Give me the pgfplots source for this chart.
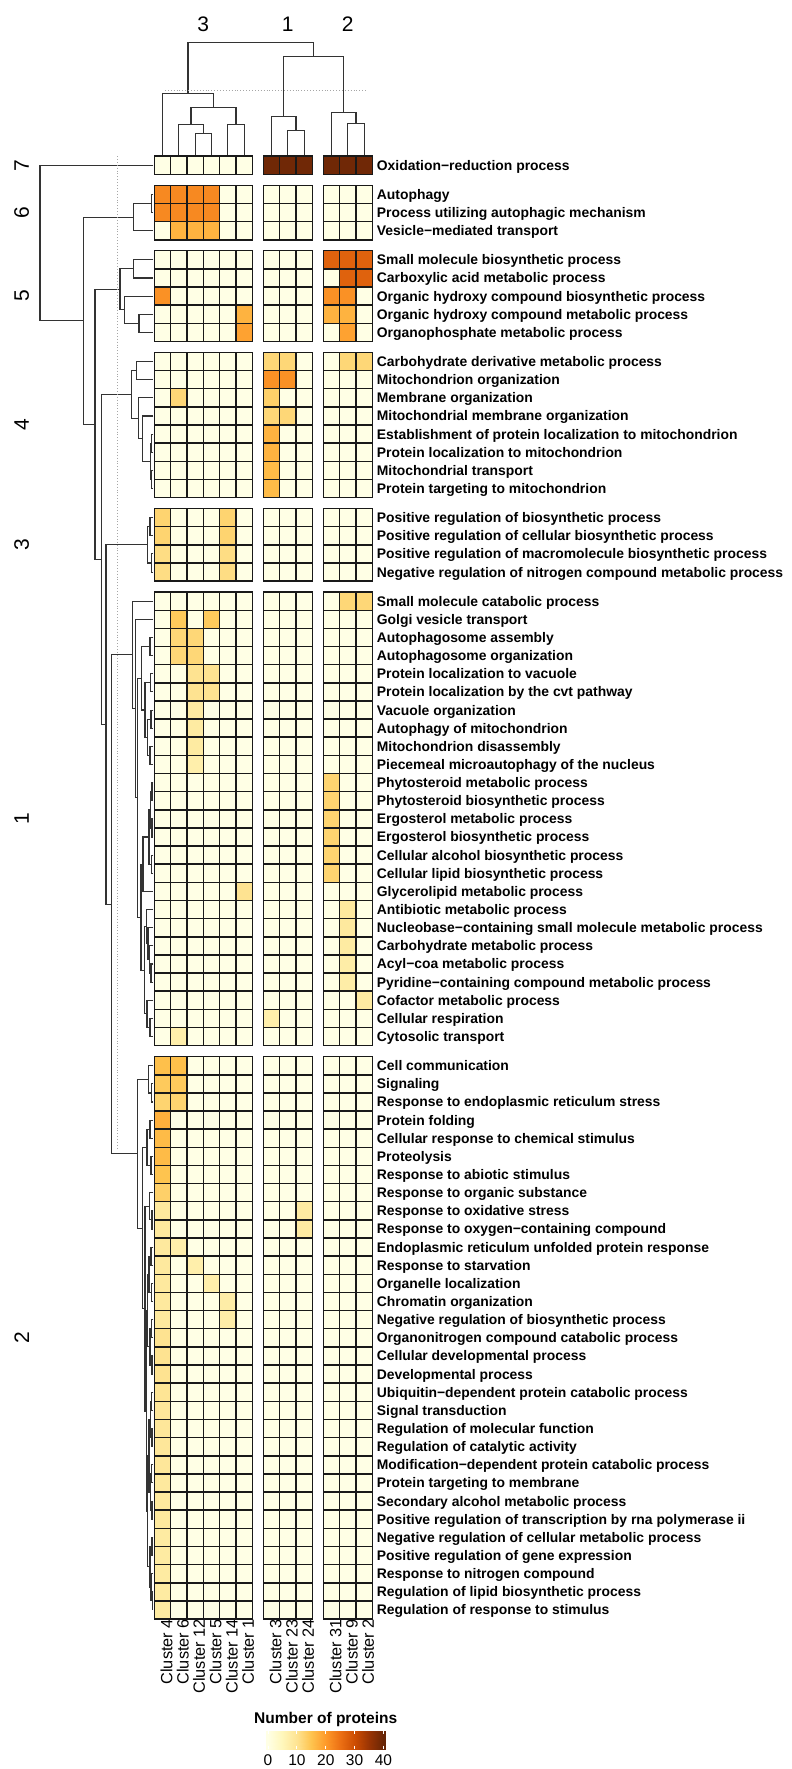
\documentclass[border=0pt]{standalone}
\usepackage{fontspec}
\setmainfont{Liberation Sans}
\usepackage{pgfplots}
\usepackage{pgfplotstable}
\pgfplotsset{compat=1.18}

% one heatmap cell, 16.33 x 18.14 (1pt = 1px of the reference)
\pgfdeclareplotmark{cell}{%
  \pgfpathrectangle{\pgfpoint{-8.165pt}{-9.07pt}}{\pgfpoint{16.33pt}{18.14pt}}%
  \pgfusepathqfillstroke}

\pgfplotsset{
  cellplot/.style={scatter, only marks, mark=cell, line width=1.5pt,
    point meta=explicit,
    scatter/use mapped color={draw=black!90, fill=mapped color}},
  dend/.style={black!80, line width=1.1pt, mark=none, unbounded coords=jump},
}

% y = row centre, then number of proteins per cluster
\pgfplotstableread{
y term C4 C6 C12 C5 C14 C1 C3 C23 C24 C31 C9 C2
165.3 {Oxidation−reduction process} 0 0 0 0 0 0 39 39 39 39 39 39
194.4 {Autophagy} 22 22 22 22 0 0 0 0 0 0 0 0
212.5 {Process utilizing autophagic mechanism} 22 22 22 22 0 0 0 0 0 0 0 0
230.7 {Vesicle−mediated transport} 0 17 17 17 0 0 0 0 0 0 0 0
259.8 {Small molecule biosynthetic process} 0 0 0 0 0 0 0 0 0 27 27 27
278.0 {Carboxylic acid metabolic process} 0 0 0 0 0 0 0 0 0 0 27 27
296.1 {Organic hydroxy compound biosynthetic process} 21 0 0 0 0 0 0 0 0 21 21 0
314.3 {Organic hydroxy compound metabolic process} 0 0 0 0 0 17 0 0 0 17 17 0
332.4 {Organophosphate metabolic process} 0 0 0 0 0 19 0 0 0 0 19 0
361.5 {Carbohydrate derivative metabolic process} 0 0 0 0 0 0 12 12 0 0 12 12
379.7 {Mitochondrion organization} 0 0 0 0 0 0 21 21 0 0 0 0
397.8 {Membrane organization} 0 12 0 0 0 0 13 0 0 0 0 0
416.0 {Mitochondrial membrane organization} 0 0 0 0 0 0 12 12 0 0 0 0
434.1 {Establishment of protein localization to mitochondrion} 0 0 0 0 0 0 17 0 0 0 0 0
452.2 {Protein localization to mitochondrion} 0 0 0 0 0 0 17 0 0 0 0 0
470.4 {Mitochondrial transport} 0 0 0 0 0 0 16 0 0 0 0 0
488.5 {Protein targeting to mitochondrion} 0 0 0 0 0 0 16 0 0 0 0 0
517.7 {Positive regulation of biosynthetic process} 12.5 0 0 0 12.5 0 0 0 0 0 0 0
535.8 {Positive regulation of cellular biosynthetic process} 12.5 0 0 0 12.5 0 0 0 0 0 0 0
553.9 {Positive regulation of macromolecule biosynthetic process} 11 0 0 0 11 0 0 0 0 0 0 0
572.1 {Negative regulation of nitrogen compound metabolic process} 11 0 0 0 11 0 0 0 0 0 0 0
601.2 {Small molecule catabolic process} 0 0 0 0 0 0 0 0 0 0 12 12
619.4 {Golgi vesicle transport} 0 14 0 14 0 0 0 0 0 0 0 0
637.5 {Autophagosome assembly} 0 12 12 0 0 0 0 0 0 0 0 0
655.6 {Autophagosome organization} 0 12 12 0 0 0 0 0 0 0 0 0
673.8 {Protein localization to vacuole} 0 0 10 10 0 0 0 0 0 0 0 0
691.9 {Protein localization by the cvt pathway} 0 0 10 10 0 0 0 0 0 0 0 0
710.1 {Vacuole organization} 0 0 8 0 0 0 0 0 0 0 0 0
728.2 {Autophagy of mitochondrion} 0 0 8 0 0 0 0 0 0 0 0 0
746.3 {Mitochondrion disassembly} 0 0 8 0 0 0 0 0 0 0 0 0
764.5 {Piecemeal microautophagy of the nucleus} 0 0 7 0 0 0 0 0 0 0 0 0
782.6 {Phytosteroid metabolic process} 0 0 0 0 0 0 0 0 0 12.5 0 0
800.8 {Phytosteroid biosynthetic process} 0 0 0 0 0 0 0 0 0 12.5 0 0
818.9 {Ergosterol metabolic process} 0 0 0 0 0 0 0 0 0 12.5 0 0
837.0 {Ergosterol biosynthetic process} 0 0 0 0 0 0 0 0 0 12.5 0 0
855.2 {Cellular alcohol biosynthetic process} 0 0 0 0 0 0 0 0 0 12.5 0 0
873.3 {Cellular lipid biosynthetic process} 0 0 0 0 0 0 0 0 0 12.5 0 0
891.5 {Glycerolipid metabolic process} 0 0 0 0 0 10 0 0 0 0 0 0
909.6 {Antibiotic metabolic process} 0 0 0 0 0 0 0 0 0 0 8.5 0
927.7 {Nucleobase−containing small molecule metabolic process} 0 0 0 0 0 0 0 0 0 0 8.5 0
945.9 {Carbohydrate metabolic process} 0 0 0 0 0 0 0 0 0 0 8 0
964.0 {Acyl−coa metabolic process} 0 0 0 0 0 0 0 0 0 0 7.5 0
982.2 {Pyridine−containing compound metabolic process} 0 0 0 0 0 0 0 0 0 0 7.5 0
1000.3 {Cofactor metabolic process} 0 0 0 0 0 0 0 0 0 0 0 8
1018.4 {Cellular respiration} 0 0 0 0 0 0 7 0 0 0 0 0
1036.6 {Cytosolic transport} 0 7 0 0 0 0 0 0 0 0 0 0
1065.7 {Cell communication} 15.5 15.5 0 0 0 0 0 0 0 0 0 0
1083.9 {Signaling} 14 14 0 0 0 0 0 0 0 0 0 0
1102.0 {Response to endoplasmic reticulum stress} 12.5 12.5 0 0 0 0 0 0 0 0 0 0
1120.1 {Protein folding} 17.5 0 0 0 0 0 0 0 0 0 0 0
1138.3 {Cellular response to chemical stimulus} 16 0 0 0 0 0 0 0 0 0 0 0
1156.4 {Proteolysis} 16 0 0 0 0 0 0 0 0 0 0 0
1174.6 {Response to abiotic stimulus} 15 0 0 0 0 0 0 0 0 0 0 0
1192.7 {Response to organic substance} 13 0 0 0 0 0 0 0 0 0 0 0
1210.8 {Response to oxidative stress} 8.5 0 0 0 0 0 0 0 8 0 0 0
1229.0 {Response to oxygen−containing compound} 8.5 0 0 0 0 0 0 0 8 0 0 0
1247.1 {Endoplasmic reticulum unfolded protein response} 8.5 7 0 0 0 0 0 0 0 0 0 0
1265.3 {Response to starvation} 8.5 0 7 0 0 0 0 0 0 0 0 0
1283.4 {Organelle localization} 8.5 0 0 7 0 0 0 0 0 0 0 0
1301.5 {Chromatin organization} 8.5 0 0 0 7.5 0 0 0 0 0 0 0
1319.7 {Negative regulation of biosynthetic process} 8.5 0 0 0 7.5 0 0 0 0 0 0 0
1337.8 {Organonitrogen compound catabolic process} 10 0 0 0 0 0 0 0 0 0 0 0
1356.0 {Cellular developmental process} 10 0 0 0 0 0 0 0 0 0 0 0
1374.1 {Developmental process} 10 0 0 0 0 0 0 0 0 0 0 0
1392.2 {Ubiquitin−dependent protein catabolic process} 9.5 0 0 0 0 0 0 0 0 0 0 0
1410.4 {Signal transduction} 9 0 0 0 0 0 0 0 0 0 0 0
1428.5 {Regulation of molecular function} 9 0 0 0 0 0 0 0 0 0 0 0
1446.7 {Regulation of catalytic activity} 9 0 0 0 0 0 0 0 0 0 0 0
1464.8 {Modification−dependent protein catabolic process} 9 0 0 0 0 0 0 0 0 0 0 0
1482.9 {Protein targeting to membrane} 8.5 0 0 0 0 0 0 0 0 0 0 0
1501.1 {Secondary alcohol metabolic process} 8.5 0 0 0 0 0 0 0 0 0 0 0
1519.2 {Positive regulation of transcription by rna polymerase ii} 8.5 0 0 0 0 0 0 0 0 0 0 0
1537.4 {Negative regulation of cellular metabolic process} 8 0 0 0 0 0 0 0 0 0 0 0
1555.5 {Positive regulation of gene expression} 8 0 0 0 0 0 0 0 0 0 0 0
1573.6 {Response to nitrogen compound} 8 0 0 0 0 0 0 0 0 0 0 0
1591.8 {Regulation of lipid biosynthetic process} 8 0 0 0 0 0 0 0 0 0 0 0
1609.9 {Regulation of response to stimulus} 8 0 0 0 0 0 0 0 0 0 0 0
}\go

\begin{document}
\begin{tikzpicture}
\begin{axis}[
  scale only axis, width=218pt, height=1462.8pt,
  xmin=154.3, xmax=372.3, ymin=156.2, ymax=1619,
  y dir=reverse, clip=false,
  axis line style={draw=none}, tick style={draw=none}, major tick length=0pt,
  colormap={ylorbr}{rgb255(0cm)=(255,255,229); rgb255(1cm)=(255,247,188);
    rgb255(2cm)=(254,227,145); rgb255(3cm)=(254,196,79); rgb255(4cm)=(254,153,41);
    rgb255(5cm)=(236,112,20); rgb255(6cm)=(204,76,2); rgb255(7cm)=(153,52,4);
    rgb255(8cm)=(102,37,6)},
  point meta min=0, point meta max=40,
  ytick=data, yticklabels from table={\go}{term}, yticklabel pos=right,
  yticklabel style={anchor=base west, inner sep=0pt, xshift=4.4pt, yshift=-4.9pt,
    font=\bfseries\fontsize{13.9}{16}\selectfont},
  xtick={162.47,178.80,195.13,211.46,227.79,244.12,271.47,287.80,304.13,331.47,347.80,364.13},
  xticklabels={Cluster 4,Cluster 6,Cluster 12,Cluster 5,Cluster 14,Cluster 1,
    Cluster 3,Cluster 23,Cluster 24,Cluster 31,Cluster 9,Cluster 2},
  xticklabel pos=lower,
  xticklabel style={rotate=90, anchor=east, inner sep=0pt, yshift=-4pt,
    font=\fontsize{16.3}{18}\selectfont},
]
\addplot[cellplot] table[x expr=162.47, y=y, meta=C4] {\go};
\addplot[cellplot] table[x expr=178.80, y=y, meta=C6] {\go};
\addplot[cellplot] table[x expr=195.13, y=y, meta=C12] {\go};
\addplot[cellplot] table[x expr=211.46, y=y, meta=C5] {\go};
\addplot[cellplot] table[x expr=227.79, y=y, meta=C14] {\go};
\addplot[cellplot] table[x expr=244.12, y=y, meta=C1] {\go};
\addplot[cellplot] table[x expr=271.47, y=y, meta=C3] {\go};
\addplot[cellplot] table[x expr=287.80, y=y, meta=C23] {\go};
\addplot[cellplot] table[x expr=304.13, y=y, meta=C24] {\go};
\addplot[cellplot] table[x expr=331.47, y=y, meta=C31] {\go};
\addplot[cellplot] table[x expr=347.80, y=y, meta=C9] {\go};
\addplot[cellplot] table[x expr=364.13, y=y, meta=C2] {\go};

% row dendrogram, groups 7 6 5 4 3
\addplot[dend] coordinates {
 (153.5,194.4) (151.7,194.4) (151.7,212.5) (153.5,212.5) (nan,nan)
 (151.7,203.5) (133.3,203.5) (133.3,230.7) (153.5,230.7) (nan,nan)
 (153.5,259.8) (133.3,259.8) (133.3,278.0) (153.5,278.0) (nan,nan)
 (153.5,314.3) (139,314.3) (139,332.4) (153.5,332.4) (nan,nan)
 (153.5,296.1) (124.3,296.1) (124.3,323.3) (139,323.3) (nan,nan)
 (133.3,268.9) (120,268.9) (120,309.7) (124.3,309.7) (nan,nan)
 (153.5,434.1) (151.5,434.1) (151.5,452.2) (153.5,452.2) (nan,nan)
 (153.5,470.4) (151.5,470.4) (151.5,488.5) (153.5,488.5) (nan,nan)
 (151.5,443.2) (150.5,443.2) (150.5,479.4) (151.5,479.4) (nan,nan)
 (153.5,416.0) (142.7,416.0) (142.7,461.3) (150.5,461.3) (nan,nan)
 (153.5,397.8) (138.3,397.8) (138.3,438.6) (142.7,438.6) (nan,nan)
 (153.5,361.5) (136.7,361.5) (136.7,379.7) (153.5,379.7) (nan,nan)
 (136.7,370.6) (131.7,370.6) (131.7,418.2) (138.3,418.2) (nan,nan)
 (153.5,517.7) (150,517.7) (150,535.8) (153.5,535.8) (nan,nan)
 (153.5,553.9) (151.5,553.9) (151.5,572.1) (153.5,572.1) (nan,nan)
 (150,526.7) (147.3,526.7) (147.3,563.0) (151.5,563.0)
};
% group 1
\addplot[dend] coordinates {
 (153.5,637.5) (150,637.5) (150,655.6) (153.5,655.6) (nan,nan)
 (153.5,673.8) (150.5,673.8) (150.5,691.9) (153.5,691.9) (nan,nan)
 (153.5,710.1) (151,710.1) (151,728.2) (153.5,728.2) (nan,nan)
 (153.5,746.3) (150,746.3) (150,764.5) (153.5,764.5) (nan,nan)
 (151,719.1) (147.5,719.1) (147.5,755.4) (150,755.4) (nan,nan)
 (150.5,682.8) (145,682.8) (145,737.3) (147.5,737.3) (nan,nan)
 (150,646.6) (141.7,646.6) (141.7,710.0) (145,710.0) (nan,nan)
 (153.5,782.6) (152,782.6) (152,800.8) (153.5,800.8) (nan,nan)
 (153.5,818.9) (152,818.9) (152,837.0) (153.5,837.0) (nan,nan)
 (153.5,855.2) (151.5,855.2) (151.5,873.3) (153.5,873.3) (nan,nan)
 (152,791.7) (150.5,791.7) (150.5,828.0) (152,828.0) (nan,nan)
 (150.5,809.8) (149,809.8) (149,864.2) (151.5,864.2) (nan,nan)
 (149,837.0) (143,837.0) (143,891.5) (153.5,891.5) (nan,nan)
 (153.5,964.0) (151,964.0) (151,982.2) (153.5,982.2) (nan,nan)
 (153.5,945.9) (149.5,945.9) (149.5,973.1) (151,973.1) (nan,nan)
 (153.5,927.7) (148,927.7) (148,959.5) (149.5,959.5) (nan,nan)
 (153.5,909.6) (146.5,909.6) (146.5,943.6) (148,943.6) (nan,nan)
 (153.5,1018.4) (150,1018.4) (150,1036.6) (153.5,1036.6) (nan,nan)
 (153.5,1000.3) (147,1000.3) (147,1027.5) (150,1027.5) (nan,nan)
 (146.5,926.6) (144.5,926.6) (144.5,1013.9) (147,1013.9) (nan,nan)
 (143,864.2) (141,864.2) (141,970.3) (144.5,970.3) (nan,nan)
 (141.7,678.3) (137.3,678.3) (137.3,917.3) (141,917.3) (nan,nan)
 (153.5,619.4) (135.3,619.4) (135.3,797.8) (137.3,797.8) (nan,nan)
 (153.5,601.2) (132.7,601.2) (132.7,708.6) (135.3,708.6)
};
% group 2
\addplot[dend] coordinates {
 (153.5,1083.9) (151.5,1083.9) (151.5,1102.0) (153.5,1102.0) (nan,nan)
 (153.5,1065.7) (148.3,1065.7) (148.3,1093.0) (151.5,1093.0) (nan,nan)
 (153.5,1120.1) (150,1120.1) (150,1138.3) (153.5,1138.3) (nan,nan)
 (153.5,1156.4) (151,1156.4) (151,1174.6) (153.5,1174.6) (nan,nan)
 (150,1129.2) (147,1129.2) (147,1165.5) (151,1165.5) (nan,nan)
 (153.5,1210.8) (152,1210.8) (152,1229.0) (153.5,1229.0) (nan,nan)
 (153.5,1192.7) (149.5,1192.7) (149.5,1219.9) (152,1219.9) (nan,nan)
 (153.5,1247.1) (151,1247.1) (151,1265.3) (153.5,1265.3) (nan,nan)
 (153.5,1283.4) (151.5,1283.4) (151.5,1301.5) (153.5,1301.5) (nan,nan)
 (151,1256.2) (149,1256.2) (149,1292.5) (151.5,1292.5) (nan,nan)
 (153.5,1319.7) (151.5,1319.7) (151.5,1337.8) (153.5,1337.8) (nan,nan)
 (153.5,1356.0) (152,1356.0) (152,1374.1) (153.5,1374.1) (nan,nan)
 (151.5,1328.8) (150,1328.8) (150,1365.0) (152,1365.0) (nan,nan)
 (149,1274.3) (147.5,1274.3) (147.5,1346.9) (150,1346.9) (nan,nan)
 (153.5,1392.2) (151.5,1392.2) (151.5,1410.4) (153.5,1410.4) (nan,nan)
 (153.5,1428.5) (152,1428.5) (152,1446.7) (153.5,1446.7) (nan,nan)
 (151.5,1401.3) (150.5,1401.3) (150.5,1437.6) (152,1437.6) (nan,nan)
 (153.5,1464.8) (151.5,1464.8) (151.5,1482.9) (153.5,1482.9) (nan,nan)
 (153.5,1501.1) (152,1501.1) (152,1519.2) (153.5,1519.2) (nan,nan)
 (151.5,1473.9) (150.5,1473.9) (150.5,1510.1) (152,1510.1) (nan,nan)
 (150.5,1419.4) (149,1419.4) (149,1492.0) (150.5,1492.0) (nan,nan)
 (153.5,1537.4) (152,1537.4) (152,1555.5) (153.5,1555.5) (nan,nan)
 (153.5,1591.8) (152.5,1591.8) (152.5,1609.9) (153.5,1609.9) (nan,nan)
 (153.5,1573.6) (151,1573.6) (151,1600.9) (152.5,1600.9) (nan,nan)
 (152,1546.4) (150,1546.4) (150,1587.2) (151,1587.2) (nan,nan)
 (149,1455.7) (147.5,1455.7) (147.5,1566.8) (150,1566.8) (nan,nan)
 (147.5,1310.6) (146.5,1310.6) (146.5,1511.3) (147.5,1511.3) (nan,nan)
 (149.5,1206.3) (145,1206.3) (145,1411.0) (146.5,1411.0) (nan,nan)
 (147,1147.4) (142.3,1147.4) (142.3,1308.7) (145,1308.7) (nan,nan)
 (148.3,1079.3) (137.3,1079.3) (137.3,1228.1) (142.3,1228.1)
};
% upper levels of the row tree
\addplot[dend] coordinates {
 (132.7,654.9) (111.7,654.9) (111.7,1153.7) (137.3,1153.7) (nan,nan)
 (147.3,544.9) (106,544.9) (106,904.3) (111.7,904.3) (nan,nan)
 (131.7,394.4) (101.7,394.4) (101.7,724.6) (106,724.6) (nan,nan)
 (120,289.3) (95,289.3) (95,559.5) (101.7,559.5) (nan,nan)
 (133.3,217.1) (83.3,217.1) (83.3,424.4) (95,424.4) (nan,nan)
 (153.5,165.3) (40,165.3) (40,320.8) (83.3,320.8)
};
\addplot[gray!70, dotted, line width=0.9pt] coordinates {(117.3,156) (117.3,1150)};

% column dendrogram
\addplot[dend] coordinates {
 (195.13,155.4) (195.13,133.3) (211.46,133.3) (211.46,155.4) (nan,nan)
 (178.80,155.4) (178.80,124.3) (203.3,124.3) (203.3,133.3) (nan,nan)
 (227.79,155.4) (227.79,124.3) (244.12,124.3) (244.12,155.4) (nan,nan)
 (191.05,124.3) (191.05,107.7) (235.95,107.7) (235.95,124.3) (nan,nan)
 (162.47,155.4) (162.47,93.3) (213.5,93.3) (213.5,107.7) (nan,nan)
 (287.80,155.4) (287.80,130.7) (304.13,130.7) (304.13,155.4) (nan,nan)
 (271.47,155.4) (271.47,116.7) (296.0,116.7) (296.0,130.7) (nan,nan)
 (347.80,155.4) (347.80,123.3) (364.13,123.3) (364.13,155.4) (nan,nan)
 (331.47,155.4) (331.47,112.7) (356.0,112.7) (356.0,123.3) (nan,nan)
 (283.7,116.7) (283.7,56.7) (343.7,56.7) (343.7,112.7) (nan,nan)
 (188.0,93.3) (188.0,42.3) (313.7,42.3) (313.7,56.7)
};
\addplot[gray!70, dotted, line width=0.9pt] coordinates {(165,90) (366.7,90)};

% colour key: strips between the colormap stops (0,5,...,40)
\addplot[patch, patch type=rectangle, shader=interp, point meta=explicit] coordinates {
 (266,1730.7) [0] (268,1730.7) [0] (268,1749) [0] (266,1749) [0]
 (268,1730.7) [0] (282.4,1730.7) [5] (282.4,1749) [5] (268,1749) [0]
 (282.4,1730.7) [5] (296.9,1730.7) [10] (296.9,1749) [10] (282.4,1749) [5]
 (296.9,1730.7) [10] (311.3,1730.7) [15] (311.3,1749) [15] (296.9,1749) [10]
 (311.3,1730.7) [15] (325.8,1730.7) [20] (325.8,1749) [20] (311.3,1749) [15]
 (325.8,1730.7) [20] (340.2,1730.7) [25] (340.2,1749) [25] (325.8,1749) [20]
 (340.2,1730.7) [25] (354.6,1730.7) [30] (354.6,1749) [30] (340.2,1749) [25]
 (354.6,1730.7) [30] (369.1,1730.7) [35] (369.1,1749) [35] (354.6,1749) [30]
 (369.1,1730.7) [35] (383.5,1730.7) [40] (383.5,1749) [40] (369.1,1749) [35]
 (383.5,1730.7) [40] (385.5,1730.7) [40] (385.5,1749) [40] (383.5,1749) [40]
};
\addplot[white, line width=1pt, mark=none, unbounded coords=jump] coordinates {
 (268,1730.7) (268,1734) (nan,nan) (268,1745.7) (268,1749) (nan,nan)
 (296.9,1730.7) (296.9,1734) (nan,nan) (296.9,1745.7) (296.9,1749) (nan,nan)
 (325.8,1730.7) (325.8,1734) (nan,nan) (325.8,1745.7) (325.8,1749) (nan,nan)
 (354.6,1730.7) (354.6,1734) (nan,nan) (354.6,1745.7) (354.6,1749) (nan,nan)
 (383.5,1730.7) (383.5,1734) (nan,nan) (383.5,1745.7) (383.5,1749)
};
\begin{scope}[font=\fontsize{15.5}{18}\selectfont]
\node at (axis cs:268,1760) {0};
\node at (axis cs:296.9,1760) {10};
\node at (axis cs:325.8,1760) {20};
\node at (axis cs:354.6,1760) {30};
\node at (axis cs:383.5,1760) {40};
\end{scope}
\node[font=\bfseries\fontsize{15.5}{18}\selectfont] at (axis cs:325.7,1719) {Number of proteins};

% slice numbers
\begin{scope}[font=\fontsize{21}{24}\selectfont]
\node at (axis cs:203.3,24) {3};
\node at (axis cs:287.8,24) {1};
\node at (axis cs:347.8,24) {2};
\node[rotate=90] at (axis cs:21.7,165.3) {7};
\node[rotate=90] at (axis cs:21.7,212.5) {6};
\node[rotate=90] at (axis cs:21.7,296.1) {5};
\node[rotate=90] at (axis cs:21.7,425.0) {4};
\node[rotate=90] at (axis cs:21.7,544.9) {3};
\node[rotate=90] at (axis cs:21.7,818.9) {1};
\node[rotate=90] at (axis cs:21.7,1337.8) {2};
\end{scope}
\path (axis cs:0,0) rectangle (axis cs:792,1769);
\end{axis}
\end{tikzpicture}
\end{document}
